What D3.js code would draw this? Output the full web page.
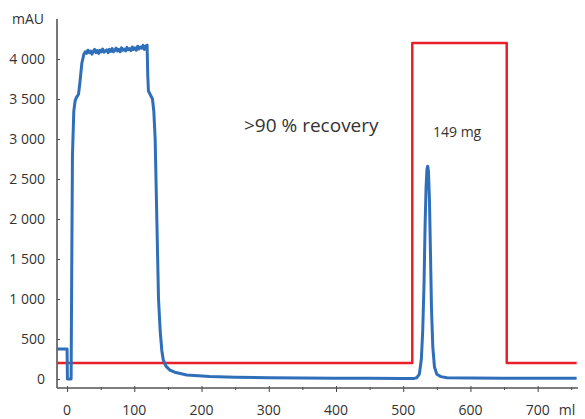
<!DOCTYPE html>
<html><head><meta charset="utf-8">
<script src="https://cdn.jsdelivr.net/npm/d3@7"></script>
<style>body{margin:0;background:#fff}svg{display:block;font-family:"Open Sans",Lato,sans-serif}</style>
</head><body><svg id="c" width="585" height="419"></svg>
<script>
const yTicks = [0,500,1000,1500,2000,2500,3000,3500,4000];
const xTicksMajor = [0,100,200,300,400,500,600,700];
const xTicksMinor = [50,150,250,350,450,550,650,750];
const uvMl  = [-15,0,0.5,6,7,8,10,12,14,17,19,22,25,27,
  29,31,33,35,37,39,41,43,45,47,49,51,53,55,57,59,61,63,65,67,69,71,73,75,77,79,81,83,85,87,89,91,93,95,97,99,101,103,105,107,109,111,113,115,117,119,
  120,121,124,127,129,131,133.5,136,138.5,141,143,147,153,160,170,178,195,212,250,300,350,400,450,500,515,520,524,527,529,531,532.5,534,535.3,536.4,537.5,539,540.5,542,544,546.5,550,556,565,600,650,700,758];
const uvMau = [375,375,0,0,1500,2800,3350,3480,3520,3560,3700,3950,4060,4090,
  4070,4110,4080,4100,4060,4095,4120,4080,4105,4070,4110,4090,4125,4085,4100,4115,4080,4120,4095,4130,4090,4110,4135,4100,4120,4090,4140,4110,4125,4100,4145,4115,4130,4105,4150,4120,4140,4110,4160,4125,4150,4135,4170,4120,4160,4175,
  3800,3600,3550,3500,3350,3000,2000,1000,600,350,240,160,112,85,65,50,40,30,22,15,12,10,8,5,5,15,60,250,600,1200,1900,2400,2620,2660,2600,2250,1600,900,400,150,60,30,15,12,8,8,8];
const condMl  = [-15,513.5,513.5,654,654,758];
const condMau = [200,200,4200,4200,200,200];
const texts = [">90 % recovery","149 mg"];

const svg = d3.select("#c");
const x = d3.scaleLinear().domain([-15,760]).range([57,578]);
const y = d3.scaleLinear().domain([-112.5,4500]).range([388,19]);
const fmt = d => d3.format(",")(d).replace(/,/g," ");

// axes
const gy = svg.append("g").attr("transform","translate(57,0)")
  .call(d3.axisRight(y).tickValues(yTicks).tickSize(3).tickFormat(""));
gy.select(".domain").remove();
gy.selectAll("line").attr("stroke","#444");
svg.append("line").attr("x1",57).attr("x2",57).attr("y1",19).attr("y2",388).attr("stroke","#555").attr("stroke-width",1.6);
svg.append("g").selectAll("text").data(yTicks).join("text")
  .attr("x",45).attr("y",d=>y(d)+5).attr("text-anchor","end")
  .attr("font-size",14).attr("fill","#333").text(fmt);
svg.append("text").attr("x",44).attr("y",24).attr("text-anchor","end").attr("font-size",14).attr("fill","#333").text("mAU");

const gx = svg.append("g").attr("transform","translate(0,388)")
  .call(d3.axisBottom(x).tickValues(xTicksMajor).tickSize(4).tickFormat(""));
gx.select(".domain").remove();
gx.selectAll("line").attr("stroke","#444").attr("y1",-2);
const gx2 = svg.append("g").attr("transform","translate(0,388)")
  .call(d3.axisBottom(x).tickValues(xTicksMinor).tickSize(2).tickFormat(""));
gx2.select(".domain").remove();
gx2.selectAll("line").attr("stroke","#444").attr("y1",-1);
svg.append("line").attr("x1",57).attr("x2",578).attr("y1",388).attr("y2",388).attr("stroke","#555").attr("stroke-width",1.6);
svg.append("g").selectAll("text").data(xTicksMajor).join("text")
  .attr("x",d=>x(d)).attr("y",415).attr("text-anchor","middle")
  .attr("font-size",14).attr("fill","#333").text(d=>d);
svg.append("text").attr("x",567).attr("y",415).attr("text-anchor","middle").attr("font-size",14).attr("fill","#333").text("ml");

// lines
const line = d3.line().x(d=>x(d[0])).y(d=>y(d[1]));
svg.append("path").datum(condMl.map((m,i)=>[m,condMau[i]]))
  .attr("d",line).attr("fill","none").attr("stroke","#e8202a").attr("stroke-width",2.5).attr("stroke-linejoin","round");
svg.append("path").datum(uvMl.map((m,i)=>[m,uvMau[i]]))
  .attr("d",line).attr("fill","none").attr("stroke","#2f6fba").attr("stroke-width",3).attr("stroke-linejoin","round");

svg.append("text").attr("x",244).attr("y",132).attr("font-size",19).attr("fill","#333").text(texts[0]);
svg.append("text").attr("x",433).attr("y",137).attr("font-size",14).attr("fill","#333").text(texts[1]);
</script></body></html>
